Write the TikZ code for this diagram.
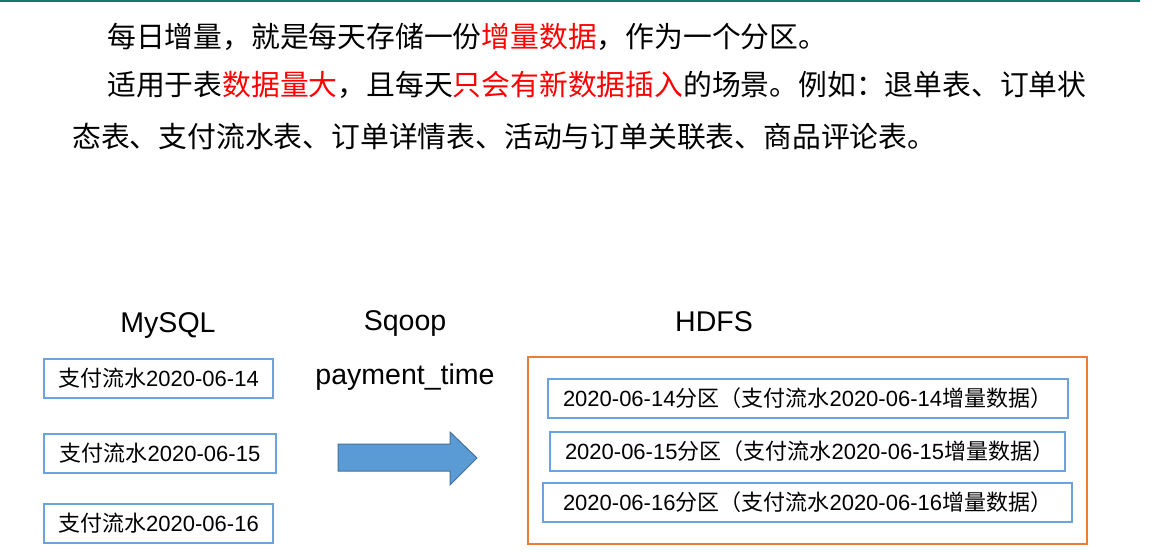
\documentclass[tikz,border=0pt]{standalone}
\usepackage{fontspec}
\setmainfont{Liberation Sans}
\newfontfamily\cjk{Noto Sans CJK SC}
\usetikzlibrary{positioning}
\definecolor{boxblue}{RGB}{109,163,220}
\definecolor{hdfsorange}{RGB}{237,125,49}
\definecolor{arrowfill}{RGB}{91,155,213}
\definecolor{arrowedge}{RGB}{65,113,156}
\definecolor{barteal}{RGB}{18,122,104}
\newdimen\px
\px=0.75pt
\newcommand\parttext[2]{\makebox[#1\px][l]{#2{\cjk 分区（支付流水}#2{\cjk 增量数据）}}}
\tikzset{
  introline/.style={anchor=west, inner sep=0pt, font=\cjk\fontsize{21.6}{26}\selectfont},
  colhead/.style={inner sep=0pt, font=\fontsize{21.4}{25}\selectfont},
  tablebox/.style={draw=boxblue, line width=2\px, inner sep=0pt, minimum height=39\px, font=\fontsize{16.5}{20}\selectfont},
  partbox/.style={draw=boxblue, line width=2\px, inner ysep=0pt, inner xsep=15\px, minimum height=39\px, font=\fontsize{16.5}{20}\selectfont},
}

\begin{document}
\begin{tikzpicture}[x=0.75pt,y=-0.75pt]
\useasboundingbox (0,0) rectangle (1159,552);
\def\arrowtop{444}
\def\arrowbot{471}

\draw[barteal, line width=3\px] (0,1) -- (1140,1);

\node[introline] (lineone) at (107,37) {每日增量，就是每天存储一份\textcolor{red}{增量数据}，作为一个分区。};
\node[introline] (linetwo) at (107,85) {适用于表\textcolor{red}{数据量大}，且每天\textcolor{red}{只会有新数据插入}的场景。例如：退单表、订单状};
\node[introline] (linethree) at (72,137) {态表、支付流水表、订单详情表、活动与订单关联表、商品评论表。};

\node[colhead] (mysql) at (168,325) {MySQL};
\node[colhead] (sqoop) at (405,323) {Sqoop};
\node[colhead] (paytime) at (405,377) {payment\_time};
\node[colhead] (hdfslabel) at (714,322) {HDFS};

\node[tablebox, minimum width=229\px] (paya) at (158.5,378.5) {{\cjk 支付流水}2020-06-14};
\node[tablebox, minimum width=232\px] (payb) at (160,453) {{\cjk 支付流水}2020-06-15};
\node[tablebox, minimum width=229\px] (payc) at (158.5,523) {{\cjk 支付流水}2020-06-16};

\draw[arrowedge, fill=arrowfill, line width=1\px]
  (338,\arrowtop) -- (450,\arrowtop) -- (450,432) -- (477,458) -- (450,485)
  -- (450,\arrowbot) -- (338,\arrowbot) -- cycle;

\node[draw=hdfsorange, line width=2\px, inner sep=0pt, minimum width=559\px, minimum height=187\px] (hdfs) at (807.5,450.5) {};
\node[partbox] (parta) at (808,398.5) {\parttext{490}{2020-06-14}};
\node[partbox] (partb) at (807.5,451.5) {\parttext{485}{2020-06-15}};
\node[partbox, inner xsep=20\px] (partc) at (807.5,502.5) {\parttext{489}{2020-06-16}};
\end{tikzpicture}
\end{document}
